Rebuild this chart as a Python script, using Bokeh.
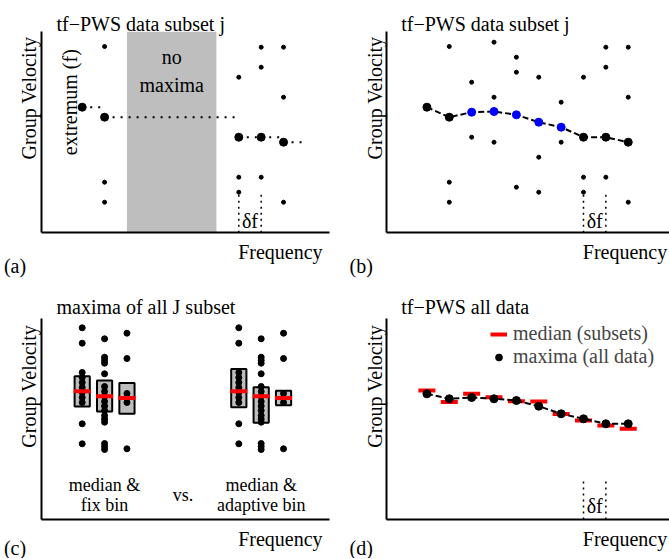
import math
from bokeh.plotting import figure
from bokeh.models import Label, FixedTicker, Range1d, Legend, LegendItem
from bokeh.layouts import column, row
from bokeh.embed import file_html
from bokeh.resources import INLINE

# ---------------- data ----------------
freq_bins = [0, 1, 2, 3, 4, 5, 6, 7, 8, 9]

# (a)/(b) tf-PWS data subset j: strongest maximum in each frequency bin
subset_max = [125.6, 115.6, 120.6, 121.3, 118.0, 110.6, 105.6, 95.6, 95.6, 90.6]
# further (weaker) local maxima of subset j
other_freq = [1, 1, 1, 2, 2, 3, 3, 3, 4, 4, 4, 5, 5, 5, 6, 6, 7, 7, 7, 8, 8, 8, 9, 9, 9]
other_vel = [186.3, 50.6, 30.6, 150.6, 95.6, 190.6, 135.6, 90.6, 175.6, 160.6, 45.6,
             155.6, 75.6, 40.6, 130.6, 90.6, 155.6, 55.6, 40.6, 185.6, 165.6, 55.6,
             185.6, 135.6, 30.6]
gap_bins = [2, 6]          # frequency bins without maxima in panel (a)
delta_f = [7, 8]           # frequency step marker
delta_f_height = 42

# (c) maxima of all J subsets in three frequency bins
bin1_vel = [191.7, 176.3, 147.0, 142.0, 137.0, 132.0, 127.0, 122.0, 117.0, 95.7, 75.7]
bin2_vel = [180.7, 162.3, 159.3, 156.3, 145.7, 133.0, 128.0, 123.0, 118.0, 113.5,
            109.0, 104.0, 100.5, 97.3, 76.0, 73.0, 70.0]
bin3_vel = [186.3, 161.0, 126.0, 121.5, 117.0, 70.7]
fix_bin_x = [0, 1, 2]
ada_bin_x = [7, 8, 9]
bin_median = [128.3, 123.3, 121.5]
fix_lo = [113.0, 108.0, 105.7]
fix_hi = [143.3, 139.0, 136.5]
ada_lo = [112.3, 96.7, 114.3]
ada_hi = [150.5, 132.2, 128.8]

# (d) tf-PWS all data
all_max = [125.7, 120.7, 122.0, 120.7, 119.0, 113.3, 105.7, 100.7, 95.7, 95.7]
subset_median = [129.0, 117.5, 125.7, 122.3, 118.3, 118.0, 105.5, 99.0, 94.0, 90.7]

# ---------------- style ----------------
S = 1.0
FONT = "Liberation Serif"
FS = "%.1fpx" % (20 * S)
FS_SMALL = "%.1fpx" % (18 * S)
GRAY = "#bebebe"
BIG = 8 * S
SMALL = 4 * S
MID = 6 * S
RED_HALF = 0.38
BOX_HALF = 0.34
PX_PER_BIN = 22.37 * S
V_MAX = 201
AX0 = -1.82


def make_fig(w, h, left_px, bottom_px, x_axis_end):
    """left_px / bottom_px: screen position of the axis corner
    measured from the figure's left / bottom edge."""
    x_start = AX0 - left_px / PX_PER_BIN
    x_end = x_start + w / PX_PER_BIN
    y_start = -bottom_px / S
    y_end = y_start + h / S
    p = figure(width=w, height=h, x_range=Range1d(x_start, x_end),
               y_range=Range1d(y_start, y_end), output_backend="svg",
               toolbar_location=None, min_border=0, min_border_left=0,
               min_border_right=0, min_border_top=0, min_border_bottom=0)
    p.outline_line_color = None
    p.grid.visible = False
    p.background_fill_color = "white"
    p.border_fill_color = "white"
    for ax in (p.xaxis[0], p.yaxis[0]):
        ax.ticker = FixedTicker(ticks=[])
        ax.major_tick_line_color = None
        ax.minor_tick_line_color = None
        ax.major_tick_out = 0
        ax.major_tick_in = 0
        ax.minor_tick_out = 0
        ax.minor_tick_in = 0
        ax.major_label_text_font_size = "0px"
        ax.major_label_standoff = 0
        ax.axis_label = None
        ax.axis_label_standoff = 0
        ax.axis_line_width = 2
        ax.axis_line_color = "black"
    p.xaxis[0].fixed_location = 0
    p.xaxis[0].bounds = (AX0, x_axis_end)
    p.yaxis[0].fixed_location = AX0
    p.yaxis[0].bounds = (0, V_MAX)
    return p


def txt(p, x, y, text, size=FS, align="left", angle=0.0):
    p.add_layout(Label(x=x, y=y, text=text, text_font=FONT, text_font_size=size,
                       text_align=align, text_baseline="alphabetic", angle=angle,
                       text_color="black"))


def panel_texts(p, title, letter, gv_x, gv_y, title_y, freq_y, letter_y, letter_x):
    txt(p, -1.15, title_y, title)
    txt(p, gv_x, gv_y, "Group Velocity", align="center", angle=math.pi / 2)
    txt(p, 6.97, freq_y, "Frequency")
    txt(p, letter_x, letter_y, letter)


def delta_marker(p, y_text):
    p.segment(x0=delta_f, x1=delta_f, y0=[0, 0], y1=[delta_f_height] * 2,
              line_color="black", line_width=1.5, line_dash="2 4")
    txt(p, (delta_f[0] + delta_f[1]) / 2, y_text, "δf", align="center")


# ---------------- panel (a) ----------------
pa = make_fig(335, 280, 41, 47.7, 11.05)
pa.quad(left=[gap_bins[0]], right=[gap_bins[1]], bottom=[0], top=[V_MAX],
        fill_color=GRAY, line_color=None)
shown = [f for f in freq_bins if not (gap_bins[0] <= f <= gap_bins[1])]
shown_v = [subset_max[f] for f in shown]
step_x1 = shown[1:] + [shown[-1] + 1]
pa.segment(x0=shown, x1=step_x1, y0=shown_v, y1=shown_v, line_color="black",
           line_width=2, line_dash="2 6")
delta_marker(pa, 12)
oa_f = [f for f in other_freq if not (gap_bins[0] <= f <= gap_bins[1])]
oa_v = [v for f, v in zip(other_freq, other_vel) if not (gap_bins[0] <= f <= gap_bins[1])]
pa.scatter(oa_f, oa_v, size=SMALL, color="black")
pa.scatter(shown, shown_v, size=BIG, color="black")
txt(pa, (gap_bins[0] + gap_bins[1]) / 2, 175.6, "no", align="center")
txt(pa, (gap_bins[0] + gap_bins[1]) / 2, 148.3, "maxima", align="center")
txt(pa, -0.55, 130.6, "extremum (f)", align="center", angle=math.pi / 2)
panel_texts(pa, "tf\u2212PWS data subset j", "(a)", -2.36, 134.8, 209, -19.5, -33, -3.5)

# ---------------- panel (b) ----------------
pb = make_fig(334, 280, 50.7, 47.7, 11.0)
pb.line(freq_bins, subset_max, line_color="black", line_width=2, line_dash="6 3")
delta_marker(pb, 12)
pb.scatter(other_freq, other_vel, size=SMALL, color="black")
blk = [f for f in freq_bins if not (gap_bins[0] <= f <= gap_bins[1])]
blu = [f for f in freq_bins if gap_bins[0] <= f <= gap_bins[1]]
pb.scatter(blk, [subset_max[f] for f in blk], size=BIG, color="black")
pb.scatter(blu, [subset_max[f] for f in blu], size=BIG, color="#0000ff")
panel_texts(pb, "tf\u2212PWS data subset j", "(b)", -2.31, 134.8, 209, -19.5, -33, -3.46)

# ---------------- panel (c) ----------------
pc = make_fig(335, 278, 41, 39, 11.05)
bins = [bin1_vel, bin2_vel, bin3_vel]
for xs, lo, hi in ((fix_bin_x, fix_lo, fix_hi), (ada_bin_x, ada_lo, ada_hi)):
    pc.quad(left=[x - BOX_HALF for x in xs], right=[x + BOX_HALF for x in xs],
            bottom=lo, top=hi, fill_color=GRAY, line_color="black", line_width=2)
    for x, vals in zip(xs, bins):
        pc.scatter([x] * len(vals), vals, size=MID, color="black")
    pc.segment(x0=[x - RED_HALF for x in xs], x1=[x + RED_HALF for x in xs],
               y0=bin_median, y1=bin_median, line_color="red", line_width=4)
txt(pc, 1, 35, "median &", size=FS_SMALL, align="center")
txt(pc, 1, 15, "fix bin", size=FS_SMALL, align="center")
txt(pc, 4.5, 25, "vs.", size=FS_SMALL, align="center")
txt(pc, 8, 35, "median &", size=FS_SMALL, align="center")
txt(pc, 8, 15, "adaptive bin", size=FS_SMALL, align="center")
panel_texts(pc, "maxima of all J subset", "(c)", -2.36, 133.2, 212.3, -19.5, -28, -3.5)

# ---------------- panel (d) ----------------
pd_ = make_fig(334, 278, 50.7, 39, 11.0)
r_med = pd_.segment(x0=[x - RED_HALF for x in freq_bins], x1=[x + RED_HALF for x in freq_bins],
                    y0=subset_median, y1=subset_median, line_color="red", line_width=4)
pd_.line(freq_bins, all_max, line_color="black", line_width=2, line_dash="6 3")
r_dot = pd_.scatter(freq_bins, all_max, size=BIG, color="black")
delta_marker(pd_, 13.5)
legend = Legend(items=[LegendItem(label="median (subsets)", renderers=[r_med]),
                       LegendItem(label="maxima (all data)", renderers=[r_dot])],
                location=(155, 190), border_line_color=None, background_fill_alpha=0,
                padding=0, margin=0, spacing=0, glyph_width=17, glyph_height=20,
                label_height=20, label_standoff=6, label_text_font=FONT,
                label_text_font_size=FS)
pd_.add_layout(legend)
panel_texts(pd_, "tf\u2212PWS all data", "(d)", -2.31, 133.2, 212.3, -19.5, -28, -3.46)

layout = column(row(pa, pb), row(pc, pd_))
open("out.html", "w").write(file_html(layout, INLINE))
